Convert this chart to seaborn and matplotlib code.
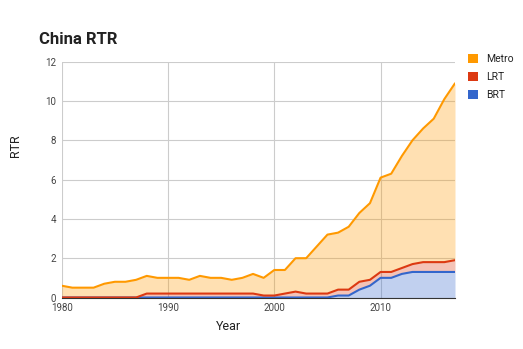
import matplotlib
matplotlib.use("Agg")
import matplotlib.pyplot as plt
from matplotlib.patches import Patch
import numpy as np
import pandas as pd
import seaborn as sns

years = list(range(1980, 2018))

# Route length per mode (stack components)
brt = [0.0] * 26 + [0.1, 0.1, 0.4, 0.6, 1.0, 1.0, 1.2, 1.3, 1.3, 1.3, 1.3, 1.3]
lrt = ([0.0] * 8 + [0.2] * 11 +
       [0.1, 0.1, 0.2, 0.3, 0.2, 0.2, 0.2,
        0.3, 0.3, 0.4, 0.3, 0.3, 0.3, 0.3, 0.4, 0.5, 0.5, 0.5, 0.6])
metro = [0.6, 0.5, 0.5, 0.5, 0.7, 0.8, 0.8, 0.9,
         0.9, 0.8, 0.8, 0.8, 0.7, 0.9, 0.8, 0.8, 0.7, 0.8, 1.0, 0.9,
         1.3, 1.2, 1.7, 1.8, 2.4, 3.0, 2.9, 3.2, 3.5, 3.9,
         4.8, 5.0, 5.7, 6.3, 6.8, 7.3, 8.3, 9.0]

series_names = ["Metro", "LRT", "BRT"]
colors = {"Metro": "#ff9900", "LRT": "#dc3912", "BRT": "#3366cc"}

sns.set_style("white")
plt.rcParams["font.family"] = ["Roboto", "DejaVu Sans"]

df = pd.DataFrame({"Year": years, "BRT": brt, "LRT": lrt, "Metro": metro})
df["BRT_top"] = df["BRT"]
df["LRT_top"] = df["BRT_top"] + df["LRT"]
df["Metro_top"] = df["LRT_top"] + df["Metro"]

fig = plt.figure(figsize=(5.23, 3.49), dpi=100)
ax = fig.add_axes([61.7 / 523, 1 - 297.5 / 349, (455 - 61.7) / 523, (297.5 - 61.7) / 349])

# stacked fills
ax.fill_between(df["Year"], 0, df["BRT_top"], color=colors["BRT"], alpha=0.3, lw=0, zorder=2)
ax.fill_between(df["Year"], df["BRT_top"], df["LRT_top"], color=colors["LRT"], alpha=0.3, lw=0, zorder=2)
ax.fill_between(df["Year"], df["LRT_top"], df["Metro_top"], color=colors["Metro"], alpha=0.3, lw=0, zorder=2)

# boundary lines
for name in ["BRT", "LRT", "Metro"]:
    sns.lineplot(data=df, x="Year", y=f"{name}_top", ax=ax, color=colors[name],
                 linewidth=1.5, zorder=4, legend=False)

ax.set_xlim(1980, 2017)
ax.set_ylim(0, 12)
ax.set_xticks([1980, 1990, 2000, 2010])
ax.set_yticks(range(0, 13, 2))
ax.grid(True, color="#cccccc", linewidth=0.8, zorder=0)
ax.set_axisbelow(True)
for side in ["top", "right", "left"]:
    ax.spines[side].set_visible(False)
ax.spines["bottom"].set_color("#333333")
ax.spines["bottom"].set_linewidth(0.8)
ax.tick_params(axis="both", length=0, labelsize=7, labelcolor="#444444", pad=4)
ax.set_xlabel("")
ax.set_ylabel("")

fig.text(39 / 523, 1 - 44 / 349, "China RTR", fontsize=12, fontweight="bold",
         color="#222222", ha="left", va="baseline")
fig.text(16 / 523, 1 - 146 / 349, "RTR", fontsize=9, rotation=90,
         color="#222222", ha="center", va="center")
fig.text(228.5 / 523, 1 - 327 / 349, "Year", fontsize=9,
         color="#222222", ha="center", va="center")

handles = [Patch(facecolor=colors[n], edgecolor="none") for n in series_names]
fig.legend(handles, series_names, loc="upper left",
           bbox_to_anchor=(468 / 523, 1 - 54 / 349), frameon=False,
           fontsize=7.5, handlelength=1.0, handleheight=1.0,
           handletextpad=0.7, labelspacing=0.75, borderpad=0, borderaxespad=0,
           labelcolor="#222222")

fig.savefig("out.png", dpi=100)
